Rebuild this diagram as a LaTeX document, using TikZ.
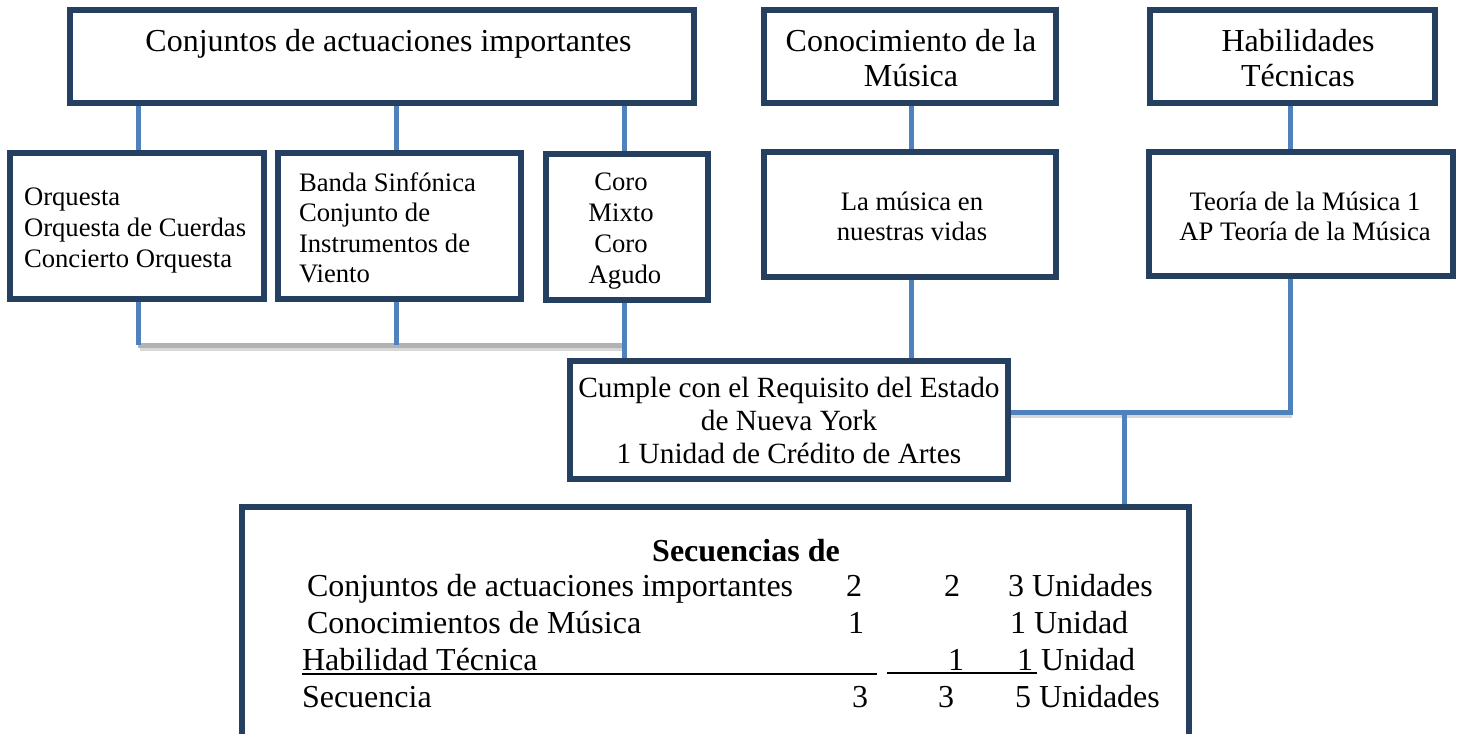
\documentclass[tikz,border=0pt]{standalone}
\usepackage{fontspec}
\setmainfont{Liberation Serif}
\usetikzlibrary{fit}
\pgfdeclarelayer{background}
\pgfsetlayers{background,main}
\definecolor{navy}{RGB}{36,63,96}
\definecolor{conblue}{RGB}{79,129,189}
\definecolor{greyline}{RGB}{178,178,178}
\definecolor{shadowgrey}{RGB}{215,215,215}
\newcommand{\fsbig}{\fontsize{24pt}{26.25pt}\selectfont}
\newcommand{\fsmid}{\fontsize{22pt}{24.75pt}\selectfont}
\newcommand{\fssmall}{\fontsize{20pt}{22.5pt}\selectfont}
\newcommand{\fsD}{\fontsize{20pt}{23.6pt}\selectfont}
\newcommand{\fsE}{\fontsize{20pt}{22.9pt}\selectfont}
\newcommand{\fsF}{\fontsize{20pt}{23.25pt}\selectfont}
\begin{document}
\begin{tikzpicture}[x=0.75pt,y=-0.75pt,
  box/.style={draw=navy,line width=4.5pt,fill=white,inner sep=0pt,outer sep=0pt},
  conn/.style={draw=conblue,line width=3.75pt},
  shadowline/.style={draw=shadowgrey,line width=4.5pt},
  greyconn/.style={draw=greyline,line width=3.75pt},
  txt/.style={inner sep=0pt,outer sep=0pt,text=black},
  uline/.style={draw=black,line width=1.5pt}
]
\useasboundingbox (0,0) rectangle (1460,733);
\clip (0,0) rectangle (1460,733);

% boxes
\node[box,fit={(70,10)(694,103)}] (A) {};
\node[box,fit={(764,10)(1056,103)}] (B) {};
\node[box,fit={(1150,10)(1435,103)}] (C) {};
\node[box,fit={(10,153)(264,299)}] (D) {};
\node[box,fit={(278,153)(521,299)}] (E) {};
\node[box,fit={(546,154)(708,300)}] (F) {};
\node[box,fit={(764,152)(1056,277)}] (G) {};
\node[box,fit={(1149,152)(1453,276)}] (H) {};
\node[box,fit={(570,361)(1008,479)}] (I) {};
\node[box,fit={(242,507)(1189,760)}] (J) {};

% junction coordinates
\coordinate (xD) at (138,0);
\coordinate (xE) at (396,0);
\coordinate (xF) at (624,0);
\coordinate (xG) at (911,0);
\coordinate (xH) at (1290,0);
\coordinate (jD) at (138,345);
\coordinate (jE) at (396,345);
\coordinate (jF) at (624,345);
\coordinate (jR) at (1290,412);
\coordinate (jM) at (1124,412);

\begin{pgfonlayer}{background}
  % shadows
  \draw[shadowline] ([shift={(2,3)}]jD) -- ([shift={(2,3)}]jF);
  \draw[shadowline] ([shift={(2,3)}]I.east |- jR) -- ([shift={(2,3)}]jR);
  % top connectors
  \draw[conn] (A.south -| xD) -- (D.north -| xD);
  \draw[conn] (A.south -| xE) -- (E.north -| xE);
  \draw[conn] (A.south -| xF) -- (F.north -| xF);
  \draw[conn] (B.south -| xG) -- (G.north -| xG);
  \draw[conn] (C.south -| xH) -- (H.north -| xH);
  % lower connectors
  \draw[greyconn] (jD) -- (jF);
  \draw[conn] (D.south -| xD) -- (jD);
  \draw[conn] (E.south -| xE) -- (jE);
  \draw[conn] (F.south -| xF) -- (I.north -| xF);
  \draw[conn] (G.south -| xG) -- (I.north -| xG);
  \draw[conn] (H.south -| xH) -- (jR) -- (I.east |- jR);
  \draw[conn] (jM) -- (J.north -| jM);
\end{pgfonlayer}

% texts
\node[txt,anchor=base,font=\fsbig] (tA) at (388.5,51) {Conjuntos de actuaciones importantes};
\node[txt,anchor=base,font=\fsbig] (tB) at (911,51) {\begin{tabular}[t]{@{}c@{}}Conocimiento de la\\Música\end{tabular}};
\node[txt,anchor=base,font=\fsbig] (tC) at (1298,51) {\begin{tabular}[t]{@{}c@{}}Habilidades\\Técnicas\end{tabular}};
\node[txt,anchor=base west,font=\fsD] (tD) at (24,205) {\begin{tabular}[t]{@{}l@{}}Orquesta\\Orquesta de Cuerdas\\Concierto Orquesta\end{tabular}};
\node[txt,anchor=base west,font=\fsE] (tE) at (299,191) {\begin{tabular}[t]{@{}l@{}}Banda Sinfónica\\Conjunto de\\Instrumentos de\\Viento\end{tabular}};
\node[txt,anchor=base,font=\fsF] (tF) at (621,190) {\begin{tabular}[t]{@{}c@{}}Coro\\Mixto\\Coro\\\hspace*{6pt}Agudo\end{tabular}};
\node[txt,anchor=base,font=\fssmall] (tG) at (912,210) {\begin{tabular}[t]{@{}c@{}}La música en\\nuestras vidas\end{tabular}};
\node[txt,anchor=base,font=\fssmall] (tH) at (1305,210) {\begin{tabular}[t]{@{}c@{}}Teoría de la Música 1\\AP Teoría de la Música\end{tabular}};
\node[txt,anchor=base,font=\fsmid] (tI) at (789,397) {\begin{tabular}[t]{@{}c@{}}Cumple con el Requisito del Estado\\de Nueva York\\1 Unidad de Crédito de Artes\end{tabular}};

% sequence table
\node[txt,anchor=base,font=\fsbig\bfseries] (tJ) at (746,561) {Secuencias de};
\node[txt,anchor=base west,font=\fsbig] (r1a) at (307,596) {Conjuntos de actuaciones importantes};
\node[txt,anchor=base,font=\fsbig] (r1b) at (854,596) {2};
\node[txt,anchor=base,font=\fsbig] (r1c) at (952,596) {2};
\node[txt,anchor=base west,font=\fsbig] (r1d) at (1008,596) {3 Unidades};
\node[txt,anchor=base west,font=\fsbig] (r2a) at (307,633) {Conocimientos de Música};
\node[txt,anchor=base,font=\fsbig] (r2b) at (856,633) {1};
\node[txt,anchor=base west,font=\fsbig] (r2d) at (1010,633) {1 Unidad};
\node[txt,anchor=base west,font=\fsbig] (r3a) at (302,670) {Habilidad Técnica};
\node[txt,anchor=base,font=\fsbig] (r3c) at (956,670) {1};
\node[txt,anchor=base west,font=\fsbig] (r3d) at (1017,670) {1 Unidad};
\node[txt,anchor=base west,font=\fsbig] (r4a) at (302,707) {Secuencia};
\node[txt,anchor=base,font=\fsbig] (r4b) at (860,707) {3};
\node[txt,anchor=base,font=\fsbig] (r4c) at (946,707) {3};
\node[txt,anchor=base west,font=\fsbig] (r4d) at (1015,707) {5 Unidades};
\draw[uline] (302,674) -- (877,674);
\draw[uline] (887,673) -- (1037,673);
\end{tikzpicture}
\end{document}
